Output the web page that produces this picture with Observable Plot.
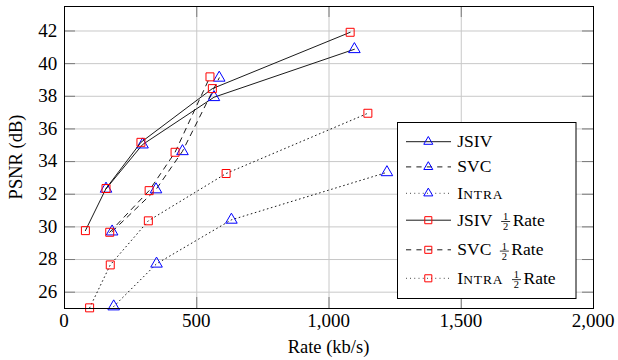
<!DOCTYPE html>
<html>
<head>
<meta charset="utf-8">
<script src="https://cdn.jsdelivr.net/npm/d3@7"></script>
<script src="https://cdn.jsdelivr.net/npm/@observablehq/plot@0.6"></script>
<style>
  html, body { margin: 0; padding: 0; background: white; }
  svg { display: block; }
</style>
</head>
<body>
<script>
// ---- data ----
const jsivRate = [157, 295, 565, 1096];
const jsivPsnr = [32.33, 35.04, 37.94, 40.88];
const svcRate = [180, 346, 446, 585];
const svcPsnr = [29.71, 32.29, 34.63, 39.13];
const intraRate = [186, 348, 631, 1219];
const intraPsnr = [25.12, 27.74, 30.43, 33.34];
const jsivHalfRate = [79, 157, 289, 559, 1080];
const jsivHalfPsnr = [29.77, 32.35, 35.18, 38.47, 41.92];
const svcHalfRate = [171, 320, 418, 550];
const svcHalfPsnr = [29.67, 32.22, 34.57, 39.19];
const intraHalfRate = [95, 173, 317, 611, 1147];
const intraHalfPsnr = [25.04, 27.67, 30.37, 33.27, 36.96];

const xTicks = [0, 500, 1000, 1500, 2000];
const yTicks = [26, 28, 30, 32, 34, 36, 38, 40, 42];
const xLabel = "Rate (kb/s)";
const yLabel = "PSNR (dB)";

// ---- styling ----
const W = 618, H = 360, mL = 64, mR = 25, mT = 6, mB = 52;
const plotW = W - mL - mR, plotH = H - mT - mB;
const FONT = "Liberation Serif";
const BLUE = "#0000ff", RED = "#ff0000";
const DASHED = "5.2,5.2", DOTTED = "0.8,3.4";
const TRI_R = 4.3, SQ_R = 4.5;
const xDomain = [0, 2000], yDomain = [25, 43.5];

const series = [
  {name: "JSIV", half: false, rate: jsivRate, psnr: jsivPsnr, dash: null, symbol: "triangle", color: BLUE},
  {name: "SVC", half: false, rate: svcRate, psnr: svcPsnr, dash: DASHED, symbol: "triangle", color: BLUE},
  {name: "Intra", half: false, rate: intraRate, psnr: intraPsnr, dash: DOTTED, symbol: "triangle", color: BLUE},
  {name: "JSIV", half: true, rate: jsivHalfRate, psnr: jsivHalfPsnr, dash: null, symbol: "square", color: RED},
  {name: "SVC", half: true, rate: svcHalfRate, psnr: svcHalfPsnr, dash: DASHED, symbol: "square", color: RED},
  {name: "Intra", half: true, rate: intraHalfRate, psnr: intraHalfPsnr, dash: DOTTED, symbol: "square", color: RED}
];

const seriesMarks = series.flatMap(s => {
  const rows = s.rate.map((r, i) => ({rate: r, psnr: s.psnr[i]}));
  return [
    Plot.line(rows, {x: "rate", y: "psnr", stroke: "black", strokeWidth: 0.9,
      strokeDasharray: s.dash ?? undefined}),
    Plot.dot(rows, {x: "rate", y: "psnr", symbol: s.symbol, r: s.symbol === "triangle" ? TRI_R : SQ_R,
      stroke: s.color, fill: "none", strokeWidth: 1})
  ];
});

const inner = xTicks.filter(t => t > xTicks[0] && t < xTicks[xTicks.length - 1]);

const chart = Plot.plot({
  width: W, height: H,
  marginLeft: mL, marginRight: mR, marginTop: mT, marginBottom: mB,
  x: {domain: xDomain, axis: null},
  y: {domain: yDomain, axis: null},
  marks: [
    Plot.gridX(inner, {stroke: "#c8c8c8", strokeOpacity: 1, strokeWidth: 1}),
    Plot.gridY(yTicks, {stroke: "#c8c8c8", strokeOpacity: 1, strokeWidth: 1}),
    Plot.ruleX(inner, {stroke: "#7a7a7a", insetTop: plotH - 11}),
    Plot.ruleX(inner, {stroke: "#7a7a7a", insetBottom: plotH - 11}),
    Plot.ruleY(yTicks, {stroke: "#7a7a7a", insetRight: plotW - 11}),
    Plot.ruleY(yTicks, {stroke: "#7a7a7a", insetLeft: plotW - 11}),
    ...seriesMarks,
    Plot.frame({stroke: "black", strokeWidth: 1})
  ]
});
chart.setAttribute("font-family", FONT);
document.body.append(chart);

const svg = d3.select(chart);

// ---- tick labels and axis titles, placed with Plot's own scales ----
const psx = chart.scale && chart.scale("x");
const psy = chart.scale && chart.scale("y");
const fx = psx && psx.apply ? v => psx.apply(v) : d3.scaleLinear(xDomain, [mL, W - mR]);
const fy = psy && psy.apply ? v => psy.apply(v) : d3.scaleLinear(yDomain, [H - mB, mT]);
const ag = svg.append("g").attr("text-anchor", "middle").attr("fill", "black");
const fmt = d3.format(",");
xTicks.forEach(v => {
  ag.append("text").attr("x", fx(v)).attr("y", H - mB + 19)
    .attr("text-anchor", "middle")
    .style("font-family", FONT).style("font-size", "19px").text(fmt(v));
});
yTicks.forEach(v => {
  ag.append("text").attr("x", mL - 6.8).attr("y", fy(v) + 6.4)
    .attr("text-anchor", "end")
    .style("font-family", FONT).style("font-size", "19px").text(String(v));
});
ag.append("text").attr("x", mL + plotW / 2).attr("y", H - 7)
  .attr("text-anchor", "middle")
  .style("font-family", FONT).style("font-size", "18.5px").text(xLabel);
ag.append("text").attr("transform", `translate(22,${mT + plotH / 2}) rotate(-90)`)
  .attr("text-anchor", "middle")
  .style("font-family", FONT).style("font-size", "18.5px").text(yLabel);

// ---- legend (drawn on top of the plot's SVG) ----
const lg = svg.append("g").attr("text-anchor", "start").attr("fill", "black");
const box = {x: 397.5, y: 122.5, w: 178.5, h: 176};
lg.append("rect").attr("x", box.x).attr("y", box.y).attr("width", box.w).attr("height", box.h)
  .attr("fill", "white").attr("stroke", "black").attr("stroke-width", 1);
const rowY = [141.7, 166.9, 193.3, 220.2, 249.8, 278.3];
const lx0 = 406, lx1 = 451, mx = 428.3, tx = 457.3;
series.forEach((s, i) => {
  const y = rowY[i];
  lg.append("line").attr("x1", lx0).attr("x2", lx1).attr("y1", y).attr("y2", y)
    .attr("stroke", "black").attr("stroke-width", 0.9)
    .attr("stroke-dasharray", s.dash ?? null);
  const r = s.symbol === "triangle" ? TRI_R : SQ_R;
  const sym = s.symbol === "triangle" ? d3.symbolTriangle2 : d3.symbolSquare2;
  lg.append("path").attr("d", d3.symbol(sym, r * r * Math.PI)())
    .attr("transform", `translate(${mx},${y})`)
    .attr("fill", "none").attr("stroke", s.color).attr("stroke-width", 1);
  const t = lg.append("text").attr("x", tx).attr("y", y + 5.5)
    .style("font-family", FONT).style("font-size", "17.5px");
  if (s.name === "Intra") {
    t.append("tspan").text("I");
    t.append("tspan").style("font-size", "13.5px").attr("letter-spacing", 0.9).text("NTRA");
  } else {
    t.text(s.name);
  }
  if (s.half) {
    const bb = t.node().getBBox();
    const fx0 = bb.x + bb.width + 8.5, fw = 9, cx = fx0 + fw / 2;
    lg.append("text").attr("x", cx).attr("y", y - 0.3).style("font-family", FONT).style("font-size", "10.5px")
      .attr("text-anchor", "middle").text("1");
    lg.append("line").attr("x1", fx0).attr("x2", fx0 + fw).attr("y1", y + 1.3).attr("y2", y + 1.3)
      .attr("stroke", "black").attr("stroke-width", 0.8);
    lg.append("text").attr("x", cx).attr("y", y + 9.8).style("font-family", FONT).style("font-size", "10.5px")
      .attr("text-anchor", "middle").text("2");
    lg.append("text").attr("x", fx0 + fw + 2.5).attr("y", y + 5.5).style("font-family", FONT)
      .style("font-size", "17.5px").text("Rate");
  }
});
</script>
</body>
</html>
